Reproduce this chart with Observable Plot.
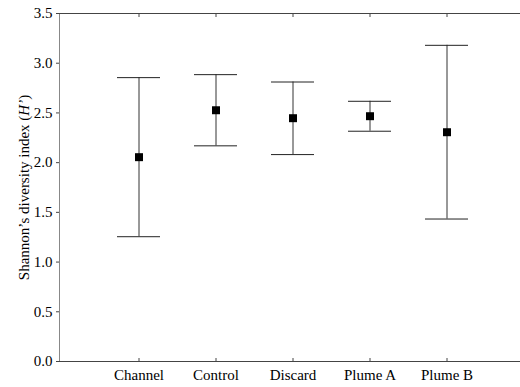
<!DOCTYPE html>
<html>
<head>
<meta charset="utf-8">
<script src="https://cdn.jsdelivr.net/npm/d3@7"></script>
<script src="https://cdn.jsdelivr.net/npm/@observablehq/plot@0.6"></script>
<style>
  html, body { margin: 0; padding: 0; background: #fff; }
  #chart svg { display: block; }
  #chart svg, #chart svg text { font-family: "Liberation Serif", "Times New Roman", "DejaVu Serif", serif !important; }
</style>
</head>
<body>
<div id="chart"></div>
<script>
const sites = ["Channel", "Control", "Discard", "Plume A", "Plume B"];
const means = [2.055, 2.527, 2.447, 2.467, 2.306];
const lows  = [1.255, 2.169, 2.081, 2.316, 1.433];
const highs = [2.855, 2.885, 2.811, 2.617, 3.180];
const yTicks = [0, 0.5, 1.0, 1.5, 2.0, 2.5, 3.0, 3.5];

const data = sites.map((s, i) => ({site: s, mean: means[i], lo: lows[i], hi: highs[i]}));

const chart = Plot.plot({
  width: 520,
  height: 387,
  marginLeft: 59,
  marginRight: 0,
  marginTop: 13,
  marginBottom: 26,
  style: {fontSize: "15px", color: "#000", background: "#fff"},
  x: {type: "band", domain: sites, range: [115, 470], paddingInner: 0.436, paddingOuter: 0, label: null},
  y: {domain: [0, 3.5], label: "Shannon’s diversity index (H’)"},
  marks: [
    Plot.frame({anchor: "left", stroke: "#888"}),
    Plot.frame({anchor: "top", stroke: "#444"}),
    Plot.frame({anchor: "bottom", stroke: "#444"}),
    Plot.axisY({ticks: yTicks, tickFormat: d3.format(".1f"), tickSize: 3, tickPadding: 4, stroke: "#444",
      label: "Shannon’s diversity index (H’)", labelAnchor: "center", labelArrow: "none", labelOffset: 41}),
    Plot.axisX({anchor: "bottom", tickSize: -3, text: null, label: null, stroke: "#444"}),
    Plot.axisX({anchor: "bottom", tickSize: 0, tickPadding: 8, label: null}),
    Plot.axisX({anchor: "top", tickSize: -3, text: null, label: null, stroke: "#444"}),
    Plot.ruleX(data, {x: "site", y1: "lo", y2: "hi", stroke: "#333", strokeWidth: 1}),
    Plot.tickY(data, {x: "site", y: "hi", stroke: "#222", strokeWidth: 1}),
    Plot.tickY(data, {x: "site", y: "lo", stroke: "#222", strokeWidth: 1}),
    Plot.dot(data, {x: "site", y: "mean", symbol: "square", r: 4.5, fill: "#000", stroke: null})
  ]
});

document.getElementById("chart").appendChild(chart);

// Italic H in the y-axis label
const lab = d3.select(chart).selectAll('g[aria-label="y-axis label"] text');
lab.each(function() {
  const t = d3.select(this);
  t.text(null);
  t.append("tspan").text("Shannon’s diversity index (");
  t.append("tspan").attr("font-style", "italic").text("H’");
  t.append("tspan").text(")");
});
d3.select(chart).selectAll('g[aria-label="y-axis label"]').attr("font-size", "15px");
</script>
</body>
</html>
